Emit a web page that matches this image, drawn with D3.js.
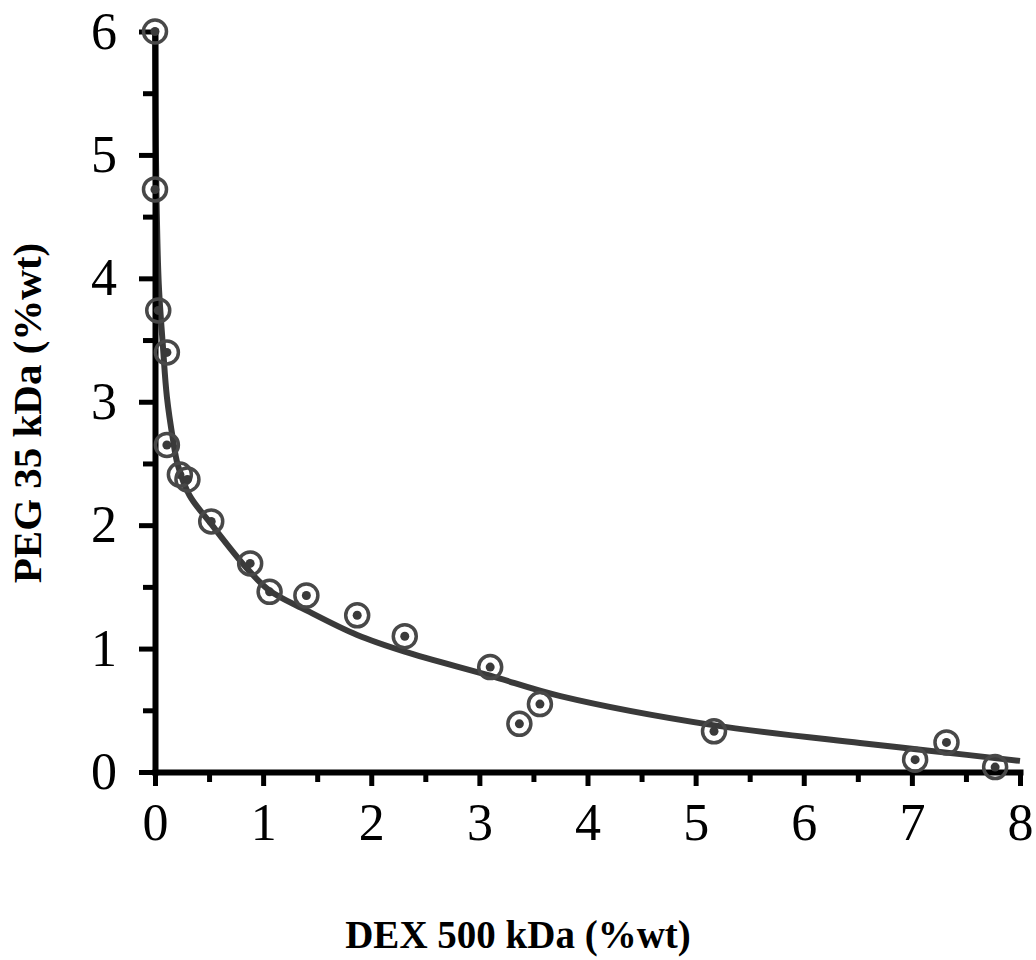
<!DOCTYPE html>
<html>
<head>
<meta charset="utf-8">
<script src="https://cdn.jsdelivr.net/npm/d3@7"></script>
<style>
  body { margin: 0; background: #fff; }
  svg { display: block; }
</style>
</head>
<body>
<div id="chart"></div>
<script>
// measured points (DEX %wt, PEG %wt)
var dexValues = [0, 0, 0.03, 0.11, 0.11, 0.23, 0.30, 0.52, 0.88, 1.06, 1.40, 1.87, 2.31, 3.10, 3.37, 3.56, 5.17, 7.03, 7.32, 7.77];
var pegValues = [6.0, 4.72, 3.74, 3.40, 2.65, 2.41, 2.37, 2.03, 1.69, 1.46, 1.43, 1.27, 1.10, 0.85, 0.39, 0.55, 0.33, 0.10, 0.24, 0.04];

// binodal curve
var curveX = [0, 0.005, 0.015, 0.035, 0.074, 0.11, 0.167, 0.21, 0.32, 0.51, 0.85, 1.06, 1.40, 1.87, 2.31, 3.10, 3.75, 5.16, 6.52, 7.14, 8.0];
var curveY = [6.0, 5.3, 4.6, 3.95, 3.44, 3.04, 2.69, 2.49, 2.24, 2.02, 1.65, 1.47, 1.31, 1.11, 0.975, 0.78, 0.615, 0.38, 0.235, 0.175, 0.09];

var xMajor = [0, 1, 2, 3, 4, 5, 6, 7, 8];
var xMinor = [0.5, 1.5, 2.5, 3.5, 4.5, 5.5, 6.5, 7.5];
var yMajor = [0, 1, 2, 3, 4, 5, 6];
var yMinor = [0.5, 1.5, 2.5, 3.5, 4.5, 5.5];

var width = 1036, height = 960;

var svg = d3.select("#chart")
    .append("svg")
    .attr("width", width)
    .attr("height", height);

var x = d3.scaleLinear().domain([0, 8]).range([155, 1020]);
var y = d3.scaleLinear().domain([0, 6]).range([772, 31.5]);

var font = "'Liberation Serif', 'Times New Roman', serif";

// curve
var line = d3.line()
    .x(d => x(d[0]))
    .y(d => y(d[1]))
    .curve(d3.curveCatmullRom.alpha(0.5));

svg.append("path")
    .datum(curveX.map((v, i) => [v, curveY[i]]))
    .attr("d", line)
    .attr("fill", "none")
    .attr("stroke", "#3a3a3a")
    .attr("stroke-width", 6);

// minor ticks
svg.append("g")
    .attr("transform", "translate(0,772)")
    .call(d3.axisBottom(x).tickValues(xMinor).tickSize(10).tickFormat(""))
    .call(g => g.select(".domain").remove())
    .call(g => g.selectAll("line").attr("stroke", "#000").attr("stroke-width", 5));

svg.append("g")
    .attr("transform", "translate(155,0)")
    .call(d3.axisLeft(y).tickValues(yMinor).tickSize(12).tickFormat(""))
    .call(g => g.select(".domain").remove())
    .call(g => g.selectAll("line").attr("stroke", "#000").attr("stroke-width", 5));

// major axes
var xAxis = svg.append("g")
    .attr("transform", "translate(0,772)")
    .call(d3.axisBottom(x).tickValues(xMajor).tickFormat(d3.format("d"))
        .tickSize(14).tickSizeOuter(0).tickPadding(17));

var yAxis = svg.append("g")
    .attr("transform", "translate(155,0)")
    .call(d3.axisLeft(y).tickValues(yMajor).tickFormat(d3.format("d"))
        .tickSize(16).tickSizeOuter(0).tickPadding(22));

[xAxis, yAxis].forEach(function(g) {
    g.select(".domain")
        .attr("stroke", "#000")
        .attr("stroke-width", 6)
        .attr("stroke-linecap", "square");
    g.selectAll(".tick line").attr("stroke", "#000").attr("stroke-width", 5);
    g.selectAll(".tick text")
        .attr("fill", "#000")
        .style("font-family", font)
        .style("font-size", "52px");
});

// markers: ring with a dot
var pts = svg.append("g");
dexValues.forEach(function(d, i) {
    pts.append("circle")
        .attr("cx", x(d))
        .attr("cy", y(pegValues[i]))
        .attr("r", 11.5)
        .attr("fill", "none")
        .attr("stroke", "#484848")
        .attr("stroke-width", 3.5);
    pts.append("circle")
        .attr("cx", x(d))
        .attr("cy", y(pegValues[i]))
        .attr("r", 4.5)
        .attr("fill", "#3a3a3a");
});

// axis titles
svg.append("text")
    .attr("x", 518)
    .attr("y", 948)
    .attr("text-anchor", "middle")
    .style("font-family", font)
    .style("font-weight", "bold")
    .style("font-size", "39px")
    .text("DEX 500 kDa (%wt)");

svg.append("text")
    .attr("transform", "translate(41,413) rotate(-90)")
    .attr("text-anchor", "middle")
    .style("font-family", font)
    .style("font-weight", "bold")
    .style("font-size", "41px")
    .text("PEG 35 kDa (%wt)");
</script>
</body>
</html>
